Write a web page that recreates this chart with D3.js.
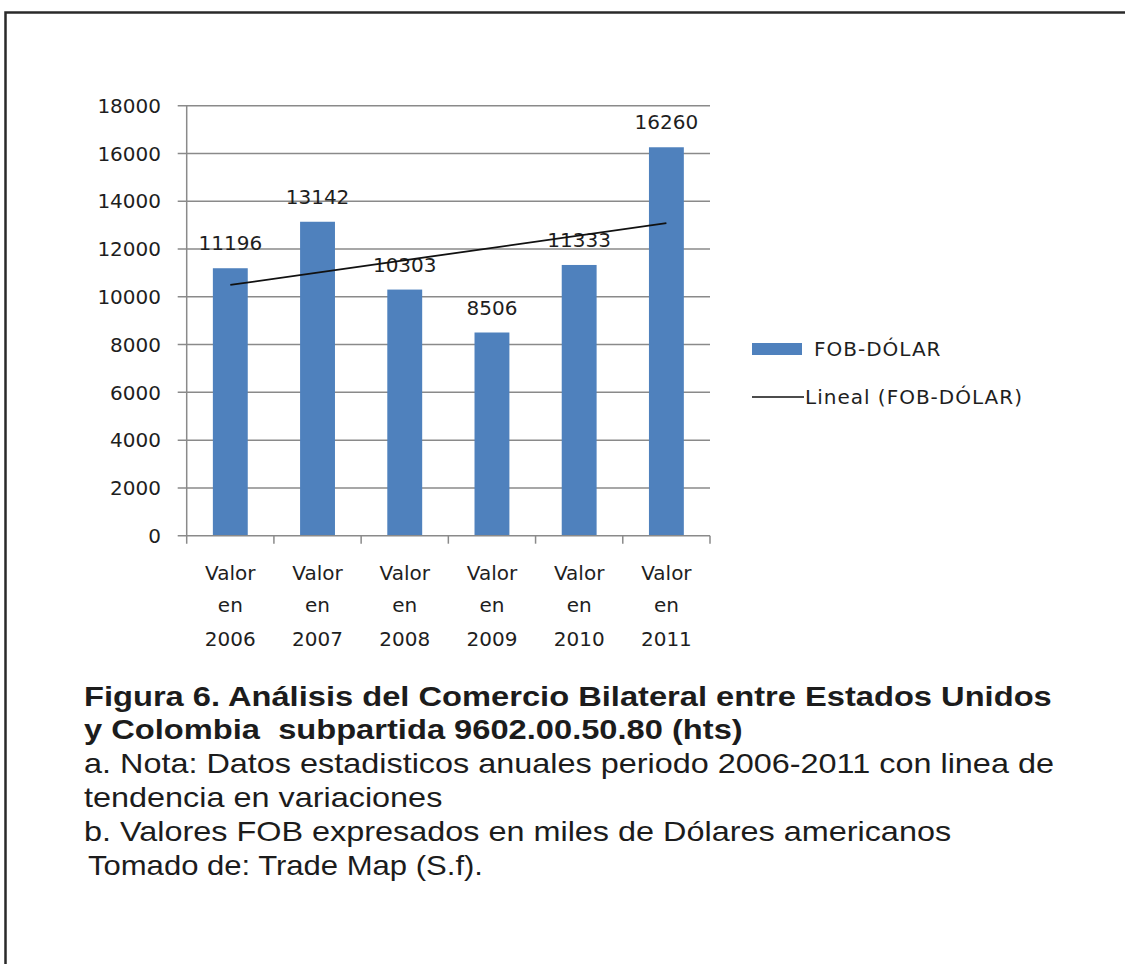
<!DOCTYPE html>
<html>
<head>
<meta charset="utf-8">
<script src="https://cdn.jsdelivr.net/npm/d3@7"></script>
<style>
  body { margin: 0; background: #fff; }
  .axis-text { font-family: "DejaVu Sans", sans-serif; font-size: 20px; fill: #1e1e1e; }
  .caption { font-family: "Liberation Sans", Arial, sans-serif; fill: #1c1c1c; white-space: pre; }
</style>
</head>
<body>
<div id="chart"></div>
<script>
// chart data
var years = ["2006", "2007", "2008", "2009", "2010", "2011"];
var values = [11196, 13142, 10303, 8506, 11333, 16260];
var yTicks = [0, 2000, 4000, 6000, 8000, 10000, 12000, 14000, 16000, 18000];
var seriesName = "FOB-DÓLAR";
var trendName = "Lineal (FOB-DÓLAR)";
var captionBold = ["Figura 6. Análisis del Comercio Bilateral entre Estados Unidos",
                   "y Colombia  subpartida 9602.00.50.80 (hts)"];
var captionLines = ["a. Nota: Datos estadisticos anuales periodo 2006-2011 con linea de",
                    "tendencia en variaciones",
                    "b. Valores FOB expresados en miles de Dólares americanos"];
var sourceLine = "Tomado de: Trade Map (S.f).";

var W = 1125, H = 964;
var plot = { left: 186.7, right: 710, top: 105.7, bottom: 535.7 };

var svg = d3.select("#chart").append("svg")
  .attr("width", W)
  .attr("height", H);

svg.append("rect").attr("width", W).attr("height", H).attr("fill", "#fff");

// frame (only left and top edges are visible in the picture)
svg.append("path")
  .attr("d", "M5.5," + (H + 5) + "V12.5H" + (W + 5))
  .attr("fill", "none")
  .attr("stroke", "#2a2a2a")
  .attr("stroke-width", 2.5);

var x = d3.scaleBand().domain(years).range([plot.left, plot.right]).padding(0);
var y = d3.scaleLinear().domain([0, 18000]).range([plot.bottom, plot.top]);

var gridColor = "#8a8a8a";

// gridlines + y ticks
svg.append("g").selectAll("line")
  .data(yTicks.filter(function(d) { return d > 0; }))
  .enter().append("line")
  .attr("x1", plot.left - 9).attr("x2", plot.right)
  .attr("y1", function(d) { return y(d); })
  .attr("y2", function(d) { return y(d); })
  .attr("stroke", gridColor).attr("stroke-width", 1.5);

// y axis labels
svg.append("g").selectAll("text")
  .data(yTicks)
  .enter().append("text")
  .attr("class", "axis-text")
  .attr("x", 161)
  .attr("y", function(d) { return y(d); })
  .attr("dy", "0.36em")
  .attr("text-anchor", "end")
  .text(function(d) { return d; });

// bars
var barW = x.bandwidth() / 2.5;
svg.append("g").selectAll("rect")
  .data(values)
  .enter().append("rect")
  .attr("x", function(d, i) { return x(years[i]) + x.bandwidth() / 2 - barW / 2; })
  .attr("y", function(d) { return y(d); })
  .attr("width", barW)
  .attr("height", function(d) { return plot.bottom - y(d); })
  .attr("fill", "#4f81bd");

// axes lines
svg.append("line")
  .attr("x1", plot.left).attr("x2", plot.left)
  .attr("y1", plot.top).attr("y2", plot.bottom + 8)
  .attr("stroke", gridColor).attr("stroke-width", 1.5);
svg.append("line")
  .attr("x1", plot.left - 9).attr("x2", plot.right)
  .attr("y1", plot.bottom).attr("y2", plot.bottom)
  .attr("stroke", gridColor).attr("stroke-width", 1.5);

// category boundary ticks
var bounds = years.map(function(d) { return x(d); }).concat([plot.right]);
svg.append("g").selectAll("line")
  .data(bounds.slice(1))
  .enter().append("line")
  .attr("x1", function(d) { return d; }).attr("x2", function(d) { return d; })
  .attr("y1", plot.bottom).attr("y2", plot.bottom + 8)
  .attr("stroke", gridColor).attr("stroke-width", 1.5);

// bar value labels
svg.append("g").selectAll("text")
  .data(values)
  .enter().append("text")
  .attr("class", "axis-text")
  .attr("x", function(d, i) { return x(years[i]) + x.bandwidth() / 2; })
  .attr("y", function(d) { return y(d) - 18; })
  .attr("text-anchor", "middle")
  .text(function(d) { return d; });

// linear trend (least squares over the bars)
var n = values.length;
var mx = (n + 1) / 2, my = d3.mean(values);
var sxy = 0, sxx = 0;
values.forEach(function(v, i) { sxy += (i + 1 - mx) * (v - my); sxx += (i + 1 - mx) * (i + 1 - mx); });
var slope = sxy / sxx, icpt = my - slope * mx;
var cx = function(i) { return x(years[i]) + x.bandwidth() / 2; };
svg.append("line")
  .attr("x1", cx(0)).attr("y1", y(icpt + slope * 1))
  .attr("x2", cx(n - 1)).attr("y2", y(icpt + slope * n))
  .attr("stroke", "#111").attr("stroke-width", 1.8);

// x labels
var xl = svg.append("g").selectAll("g")
  .data(years)
  .enter().append("g")
  .attr("transform", function(d) { return "translate(" + (x(d) + x.bandwidth() / 2) + ",0)"; });
xl.append("text").attr("class", "axis-text").attr("y", 580).attr("text-anchor", "middle").text("Valor");
xl.append("text").attr("class", "axis-text").attr("y", 612).attr("text-anchor", "middle").text("en");
xl.append("text").attr("class", "axis-text").attr("y", 646).attr("text-anchor", "middle").text(function(d) { return d; });

// legend
var lg = svg.append("g").attr("transform", "translate(752,0)");
lg.append("rect").attr("x", 0).attr("y", 343).attr("width", 50).attr("height", 12).attr("fill", "#4f81bd");
lg.append("text").attr("class", "axis-text").attr("x", 62).attr("y", 356)
  .attr("letter-spacing", 1).text(seriesName);
lg.append("line").attr("x1", 0).attr("x2", 52).attr("y1", 397).attr("y2", 397)
  .attr("stroke", "#111").attr("stroke-width", 1.5);
lg.append("text").attr("class", "axis-text").attr("x", 53).attr("y", 404)
  .attr("letter-spacing", 1).text(trendName);

// caption (the source picture is stretched sideways)
var capB = svg.append("g").attr("transform", "translate(84,0) scale(1.21,1)");
capB.selectAll("text")
  .data(captionBold)
  .enter().append("text")
  .attr("class", "caption")
  .attr("x", 0)
  .attr("y", function(d, i) { return 706 + i * 33; })
  .attr("font-size", 27)
  .attr("font-weight", "bold")
  .text(function(d) { return d; });

var capN = svg.append("g").attr("transform", "translate(84,0) scale(1.2,1)");
capN.selectAll("text")
  .data(captionLines)
  .enter().append("text")
  .attr("class", "caption")
  .attr("x", 0)
  .attr("y", function(d, i) { return 773 + i * 34; })
  .attr("font-size", 27)
  .text(function(d) { return d; });

svg.append("g").attr("transform", "translate(88,0) scale(1.15,1)")
  .append("text")
  .attr("class", "caption")
  .attr("x", 0)
  .attr("y", 875)
  .attr("font-size", 27)
  .text(sourceLine);
</script>
</body>
</html>
